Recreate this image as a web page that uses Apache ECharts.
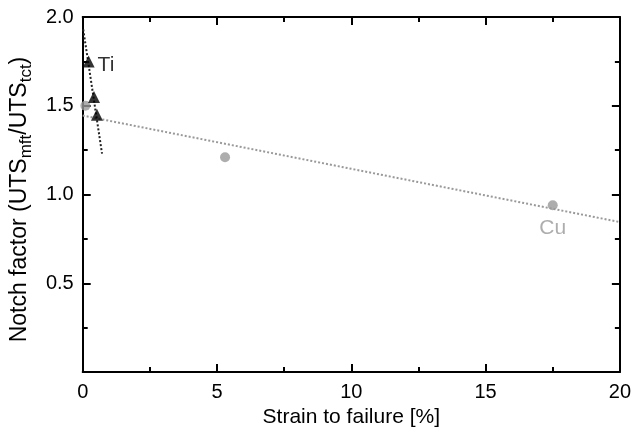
<!DOCTYPE html>
<html>
<head>
<meta charset="utf-8">
<script src="https://cdn.jsdelivr.net/npm/echarts@6/dist/echarts.min.js"></script>
<style>
  html, body { margin: 0; padding: 0; background: #fff; }
  #chart { width: 634px; height: 433px; }
</style>
</head>
<body>
<div id="chart"></div>
<script>
// measured points
const tiPoints = [[0.22, 1.75], [0.42, 1.55], [0.53, 1.45]]
const cuPoints = [[0.1, 1.5], [5.3, 1.21], [17.5, 0.94]]
// fitted trend lines (end points)
const tiFit = [[0.02, 1.93], [0.72, 1.23]]
const cuFit = [[0, 1.445], [20, 0.845]]

const xTicks = { min: 0, max: 20, interval: 5 }
const yTicks = { min: 0, max: 2, interval: 0.5 }

const font = 'Liberation Sans, Arial, Helvetica, sans-serif'
const black = '#000'
const grey = '#999999'

const chart = echarts.init(document.getElementById('chart'))

const tickCommon = {
  axisLine: { show: true, onZero: false, lineStyle: { color: black, width: 2 } },
  axisTick: { show: true, inside: true, length: 8, lineStyle: { color: black, width: 2 } },
  minorTick: { show: true, splitNumber: 2, length: 5, lineStyle: { color: black, width: 2 } },
  splitLine: { show: false }
}

const options = {
  animation: false,
  grid: { left: 82, right: 13, top: 17, bottom: 55 },
  xAxis: [
    {
      type: 'value',
      min: xTicks.min, max: xTicks.max, interval: xTicks.interval,
      name: 'Strain to failure [%]',
      nameLocation: 'middle',
      nameGap: 34,
      nameTextStyle: { color: black, fontSize: 21, fontFamily: font },
      axisLabel: { color: black, fontSize: 20, fontFamily: font, margin: 10 },
      ...tickCommon
    },
    {
      type: 'value', position: 'top',
      min: xTicks.min, max: xTicks.max, interval: xTicks.interval,
      axisLabel: { show: false },
      ...tickCommon
    }
  ],
  yAxis: [
    {
      type: 'value',
      min: yTicks.min, max: yTicks.max, interval: yTicks.interval,
      name: 'Notch factor (UTS{sub|mft}/UTS{sub|tct})',
      nameLocation: 'middle',
      nameGap: 47,
      nameRotate: 90,
      nameTextStyle: {
        color: black, fontSize: 23, fontFamily: font,
        padding: [0, 10, 0, 0],
        rich: {
          sub: { fontSize: 17, fontFamily: font, color: black, verticalAlign: 'bottom', lineHeight: 31 }
        }
      },
      axisLabel: {
        color: black, fontSize: 20, fontFamily: font, margin: 9,
        formatter: v => (v === 0 ? '' : v.toFixed(1))
      },
      ...tickCommon
    },
    {
      type: 'value', position: 'right',
      min: yTicks.min, max: yTicks.max, interval: yTicks.interval,
      axisLabel: { show: false },
      ...tickCommon
    }
  ],
  series: [
    {
      name: 'Cu fit',
      type: 'line',
      data: cuFit,
      symbol: 'none',
      lineStyle: { color: grey, width: 2, type: [2, 2] },
      z: 1
    },
    {
      name: 'Ti fit',
      type: 'line',
      data: tiFit,
      symbol: 'none',
      lineStyle: { color: '#222', width: 2, type: [2, 2] },
      z: 1
    },
    {
      name: 'Cu',
      type: 'scatter',
      data: cuPoints.map((p, i) => i === 2
        ? { value: p, label: { show: true, position: 'bottom', distance: 8, formatter: 'Cu', color: grey, fontSize: 21, fontFamily: font } }
        : p),
      symbol: 'circle',
      symbolSize: 10,
      itemStyle: { color: grey },
      z: 3
    },
    {
      name: 'Ti',
      type: 'scatter',
      data: tiPoints.map((p, i) => i === 0
        ? { value: p, label: { show: true, position: 'right', distance: 3, offset: [0, 4], formatter: 'Ti', color: black, fontSize: 21, fontFamily: font } }
        : p),
      symbol: 'triangle',
      symbolSize: 12,
      itemStyle: { color: black },
      z: 4
    }
  ]
}

chart.setOption(options)
window.addEventListener('resize', () => chart.resize())
</script>
</body>
</html>
